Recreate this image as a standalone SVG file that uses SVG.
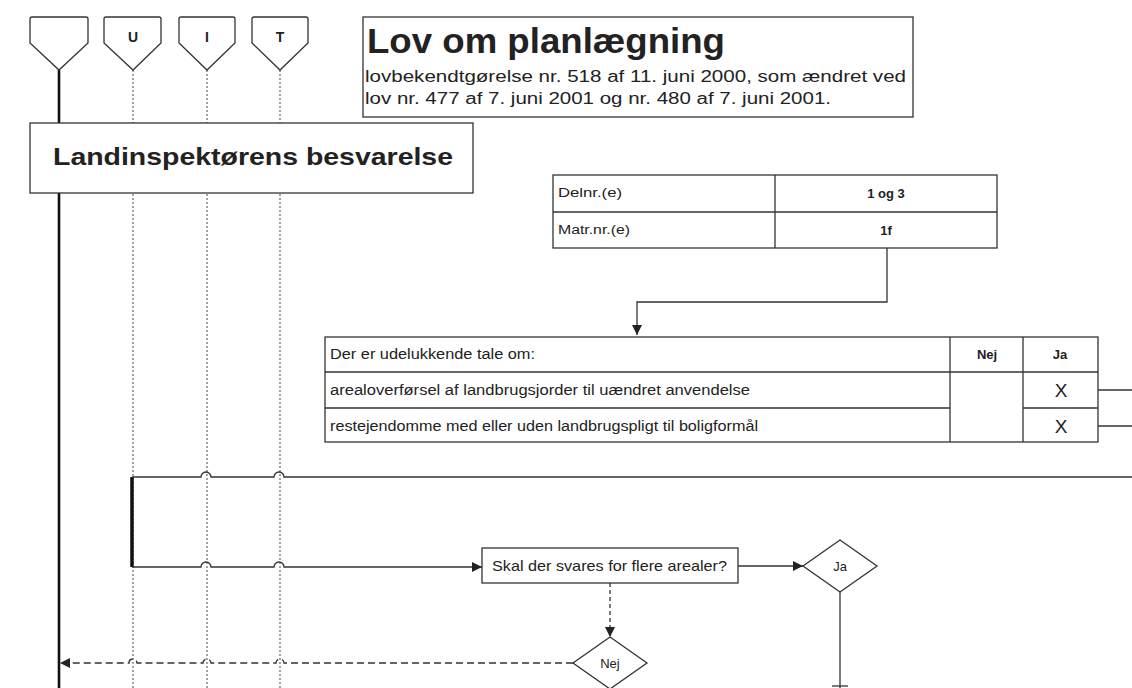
<svg xmlns="http://www.w3.org/2000/svg" width="1132" height="688" viewBox="0 0 1132 688">
  <defs>
    <style>
      .txt { font-family: "Liberation Sans", Arial, sans-serif; fill: #222; }
      .bold { font-weight: bold; }
      .box { fill: #fff; stroke: #333; stroke-width: 1.3; }
      .line { fill: none; stroke: #333; stroke-width: 1.3; }
      .dash { fill: none; stroke: #333; stroke-width: 1.3; stroke-dasharray: 7 4; }
      .lane { fill: none; stroke: #666; stroke-width: 1.2; stroke-dasharray: 2 2; }
    </style>
    <marker id="arrow" viewBox="0 0 10 10" refX="10" refY="5" markerWidth="12" markerHeight="10" markerUnits="userSpaceOnUse" orient="auto">
      <path d="M0,0 L10,5 L0,10 Z" fill="#222"/>
    </marker>
  </defs>

  <rect width="1132" height="688" fill="#fff"/>

  <!-- swimlane lines -->
  <g id="lanes">
    <line x1="59" y1="70" x2="59" y2="688" stroke="#111" stroke-width="2.6"/>
    <line class="lane" x1="133" y1="70" x2="133" y2="688"/>
    <line class="lane" x1="207" y1="70" x2="207" y2="688"/>
    <line class="lane" x1="280" y1="70" x2="280" y2="688"/>
  </g>

  <!-- lane headers -->
  <g id="lane-main">
    <path class="box" d="M32,17 H86 Q88,17 88,19 V43 L59,70 L30,43 V19 Q30,17 32,17 Z"/>
  </g>
  <g id="lane-u">
    <path class="box" d="M106,17 H159 Q161,17 161,19 V43 L133,70 L104,43 V19 Q104,17 106,17 Z"/>
    <text class="txt bold" x="133" y="42" font-size="14" text-anchor="middle">U</text>
  </g>
  <g id="lane-i">
    <path class="box" d="M181,17 H233 Q235,17 235,19 V43 L207,70 L179,43 V19 Q179,17 181,17 Z"/>
    <text class="txt bold" x="207" y="42" font-size="14" text-anchor="middle">I</text>
  </g>
  <g id="lane-t">
    <path class="box" d="M254,17 H306 Q308,17 308,19 V43 L280,70 L252,43 V19 Q252,17 254,17 Z"/>
    <text class="txt bold" x="280" y="42" font-size="14" text-anchor="middle">T</text>
  </g>

  <!-- title block -->
  <g id="title">
    <rect class="box" x="363" y="17" width="550" height="100"/>
    <text class="txt bold" x="367" y="53" font-size="35" textLength="358" lengthAdjust="spacingAndGlyphs">Lov om planlægning</text>
    <text class="txt" x="365" y="82" font-size="16" textLength="541" lengthAdjust="spacingAndGlyphs">lovbekendtgørelse nr. 518 af 11. juni 2000, som ændret ved</text>
    <text class="txt" x="365" y="104" font-size="16" textLength="466" lengthAdjust="spacingAndGlyphs">lov nr. 477 af 7. juni 2001 og nr. 480 af 7. juni 2001.</text>
  </g>

  <g id="heading">
    <rect class="box" x="30" y="123" width="443" height="70"/>
    <text class="txt bold" x="53" y="165" font-size="24" textLength="400" lengthAdjust="spacingAndGlyphs">Landinspektørens besvarelse</text>
  </g>

  <!-- parcel table -->
  <g id="parcel-table">
    <rect class="box" x="553" y="175" width="444" height="73"/>
    <line class="line" x1="553" y1="212" x2="997" y2="212"/>
    <line class="line" x1="775" y1="175" x2="775" y2="248"/>
    <text class="txt" x="558" y="197" font-size="12" textLength="64" lengthAdjust="spacingAndGlyphs">Delnr.(e)</text>
    <text class="txt" x="558" y="234" font-size="12" textLength="72" lengthAdjust="spacingAndGlyphs">Matr.nr.(e)</text>
    <text class="txt bold" x="886" y="198" font-size="13" text-anchor="middle">1 og 3</text>
    <text class="txt bold" x="886" y="235" font-size="13" text-anchor="middle">1f</text>
  </g>

  <!-- criteria table -->
  <g id="criteria-table">
    <rect class="box" x="325" y="337" width="773" height="105"/>
    <line class="line" x1="325" y1="372" x2="1098" y2="372"/>
    <line class="line" x1="325" y1="408" x2="950" y2="408"/>
    <line class="line" x1="1023" y1="408" x2="1098" y2="408"/>
    <line class="line" x1="950" y1="337" x2="950" y2="442"/>
    <line class="line" x1="1023" y1="337" x2="1023" y2="442"/>
    <text class="txt" x="330" y="359" font-size="14" textLength="205" lengthAdjust="spacingAndGlyphs">Der er udelukkende tale om:</text>
    <text class="txt" x="330" y="395" font-size="14" textLength="420" lengthAdjust="spacingAndGlyphs">arealoverførsel af landbrugsjorder til uændret anvendelse</text>
    <text class="txt" x="330" y="431" font-size="14" textLength="428" lengthAdjust="spacingAndGlyphs">restejendomme med eller uden landbrugspligt til boligformål</text>
    <text class="txt bold" x="987" y="359" font-size="13" text-anchor="middle">Nej</text>
    <text class="txt bold" x="1060" y="359" font-size="13" text-anchor="middle">Ja</text>
    <text class="txt" x="1061" y="397" font-size="19" text-anchor="middle">X</text>
    <text class="txt" x="1061" y="433" font-size="19" text-anchor="middle">X</text>
  </g>

  <g id="question">
    <rect class="box" x="482" y="548" width="256" height="35"/>
    <text class="txt" x="492" y="571" font-size="15" textLength="235" lengthAdjust="spacingAndGlyphs">Skal der svares for flere arealer?</text>
  </g>

  <g id="answer-ja">
    <path class="box" d="M840,540 L877,566 L840,592 L803,566 Z"/>
    <text class="txt" x="840" y="571" font-size="13" text-anchor="middle">Ja</text>
  </g>

  <g id="answer-nej">
    <path class="box" d="M610,637 L647,663 L610,689 L573,663 Z"/>
    <text class="txt" x="610" y="668" font-size="13" text-anchor="middle">Nej</text>
  </g>

  <!-- connectors -->
  <g id="connectors">
    <path class="line" d="M887,248 V302 H637 V335" marker-end="url(#arrow)"/>
    <line class="line" x1="1098" y1="390" x2="1132" y2="390"/>
    <line class="line" x1="1098" y1="426" x2="1132" y2="426"/>
    <!-- split bar -->
    <line x1="132" y1="477" x2="132" y2="567" stroke="#111" stroke-width="3.5"/>
    <path class="line" d="M132,477 H201 A5,5 0 0 1 211,477 H274 A5,5 0 0 1 284,477 H1132"/>
    <path class="line" d="M132,567 H201 A5,5 0 0 1 211,567 H274 A5,5 0 0 1 284,567 H482" marker-end="url(#arrow)"/>
    <line class="line" x1="738" y1="566" x2="803" y2="566" marker-end="url(#arrow)"/>
    <line class="line" x1="840" y1="592" x2="840" y2="688"/>
    <line class="line" x1="832" y1="686" x2="848" y2="686"/>
    <line class="line" x1="610" y1="583" x2="610" y2="637" stroke-dasharray="4 3" marker-end="url(#arrow)"/>
    <path class="dash" d="M573,663 H284 A4,4 0 0 0 276,663 H211 A4,4 0 0 0 203,663 H137 A4,4 0 0 0 129,663 H60" marker-end="url(#arrow)"/>
  </g>
</svg>
